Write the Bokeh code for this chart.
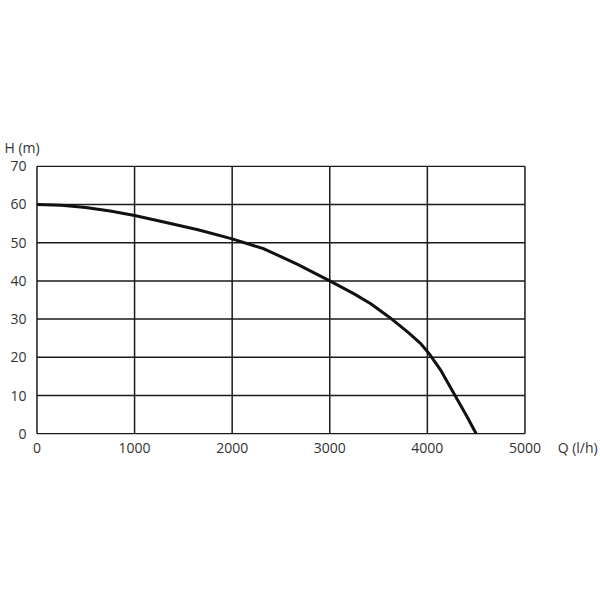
from bokeh.plotting import figure
from bokeh.embed import file_html
from bokeh.resources import INLINE
from bokeh.models import FixedTicker, Range1d, Title

flow = [0, 250, 500, 750, 1000, 1300, 1650, 2000, 2325, 2665, 3000, 3250, 3420, 3610, 3800, 3935, 4020, 4140, 4275, 4410, 4500]
head = [60, 59.8, 59.2, 58.3, 57.1, 55.4, 53.4, 51.0, 48.4, 44.4, 40.0, 36.6, 34.0, 30.5, 26.6, 23.5, 20.9, 16.5, 10.4, 4.3, 0]

x_ticks = [0, 1000, 2000, 3000, 4000, 5000]
y_ticks = [0, 10, 20, 30, 40, 50, 60, 70]
x_name = "Q (l/h)"
y_name = "H (m)"
x_name_pos = 5540

FONT = "Open Sans"
TXT = "#333333"
LINE = "#1a1a1a"

p = figure(width=600, height=560, output_backend="svg", toolbar_location=None,
           x_range=Range1d(-15, 5774), y_range=Range1d(-0.2, 70.2),
           min_border_left=35, min_border_right=0, min_border_top=165, min_border_bottom=126)

p.outline_line_color = None
p.background_fill_color = "white"
p.border_fill_color = "white"
p.grid.visible = False

for ax in (p.xaxis, p.yaxis):
    ax.axis_line_color = None
    ax.major_tick_line_color = None
    ax.minor_tick_line_color = None
    ax.major_tick_out = 0
    ax.major_tick_in = 0
    ax.minor_tick_out = 0
    ax.major_label_text_font = FONT
    ax.major_label_text_font_size = "14px"
    ax.major_label_text_color = TXT

p.xaxis.ticker = FixedTicker(ticks=x_ticks + [x_name_pos])
p.xaxis.major_label_overrides = {x_name_pos: x_name}
p.yaxis.ticker = FixedTicker(ticks=y_ticks)
p.xaxis.major_label_standoff = 3
p.yaxis.major_label_standoff = 9

# grid / frame lines drawn from the tick lists
x0, x1 = x_ticks[0], x_ticks[-1]
y0, y1 = y_ticks[0], y_ticks[-1]
p.segment(x0=[x0] * len(y_ticks), y0=y_ticks, x1=[x1] * len(y_ticks), y1=y_ticks,
          line_color=LINE, line_width=1.5)
p.segment(x0=x_ticks, y0=[y0] * len(x_ticks), x1=x_ticks, y1=[y1] * len(x_ticks),
          line_color=LINE, line_width=1.5)

p.line(flow, head, line_color="#111111", line_width=3, line_join="round")

p.add_layout(Title(text=y_name, align="left", offset=-31, text_font=FONT, text_font_size="14px",
                   text_font_style="normal", text_color=TXT, standoff=18), "above")

open("out.html", "w").write(file_html(p, INLINE))
